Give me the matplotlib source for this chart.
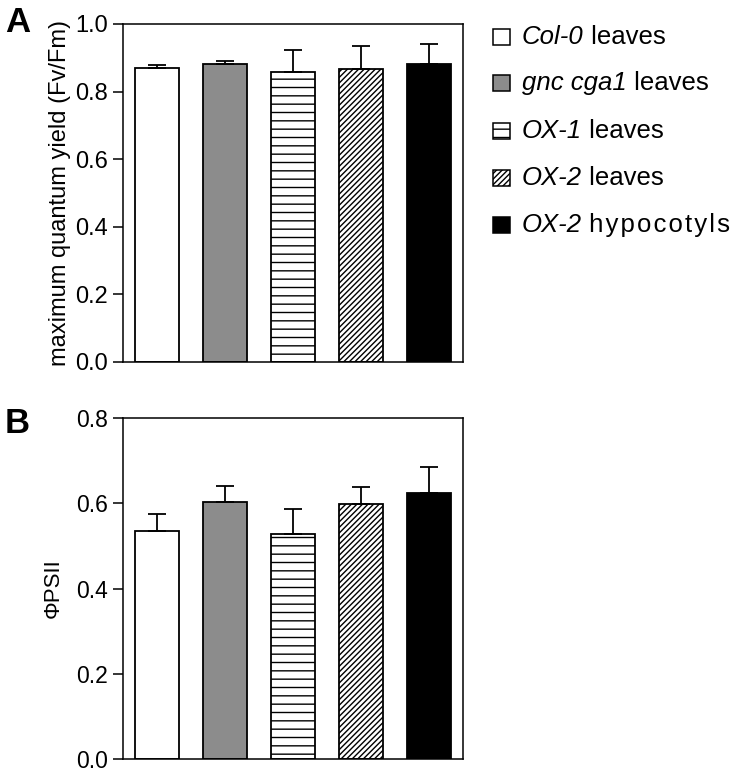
import numpy as np
import matplotlib
matplotlib.use('Agg')
import matplotlib.pyplot as plt
from matplotlib.patches import Rectangle

plt.rcParams['font.family'] = ['Liberation Sans', 'DejaVu Sans']
plt.rcParams['hatch.linewidth'] = 1.0

groups = ['Col-0', 'gnc cga1', 'OX-1', 'OX-2', 'OX-2']
suffix = [' leaves', ' leaves', ' leaves', ' leaves',
          ' ' + '\u200a'.join('hypocotyls')]
colors = ['white', '#8c8c8c', 'white', 'white', 'black']
hatches = ['', '', '--', '//////', '']

fvfm_mean = [0.869, 0.883, 0.859, 0.868, 0.883]
fvfm_err = [0.010, 0.008, 0.065, 0.067, 0.059]
psii_mean = [0.535, 0.603, 0.528, 0.598, 0.624]
psii_err = [0.039, 0.038, 0.059, 0.040, 0.060]

W, H = 747, 774
fig = plt.figure(figsize=(W / 100, H / 100), dpi=100)
ax1 = fig.add_axes([123 / W, 1 - 362 / H, 340 / W, 338 / H])
ax2 = fig.add_axes([123 / W, 1 - 759.3 / H, 340 / W, 341.6 / H])

x = np.arange(len(groups))


def draw(ax, mean, err, ymax, ticks, tsize):
    ax.bar(x, mean, width=0.66, color=colors, hatch=hatches, edgecolor='black',
           linewidth=1.3, yerr=[np.zeros(len(err)), err],
           error_kw=dict(ecolor='black', elinewidth=1.3, capsize=6.5, capthick=1.3),
           zorder=2)
    ax.set_xlim(-0.5, 4.5)
    ax.set_ylim(0, ymax)
    ax.set_xticks([])
    ax.set_yticks(ticks)
    ax.set_yticklabels(['%.1f' % t for t in ticks])
    ax.tick_params(axis='y', direction='out', length=7.5, width=1.1, pad=3.5, labelsize=tsize)
    for s in ax.spines.values():
        s.set_linewidth(1.1)


draw(ax1, fvfm_mean, fvfm_err, 1.0, [0, 0.2, 0.4, 0.6, 0.8, 1.0], 17)
draw(ax2, psii_mean, psii_err, 0.8, [0, 0.2, 0.4, 0.6, 0.8], 16.5)

ax1.set_ylabel('maximum quantum yield (Fv/Fm)', fontsize=17, labelpad=3)
ax2.set_ylabel('\u03a6PSII', fontsize=16, labelpad=9)

fig.text(5 / W, 1 - 32 / H, 'A', fontsize=25, weight='bold')
fig.text(5 / W, 1 - 433 / H, 'B', fontsize=25, weight='bold')

# legend
rows_y = [37, 83, 131, 178, 225]
for i, y in enumerate(rows_y):
    fig.add_artist(Rectangle((493 / W, 1 - (y + 8) / H), 17 / W, 16 / H,
                             transform=fig.transFigure, facecolor=colors[i],
                             hatch=hatches[i], edgecolor='black', linewidth=1.1))
    t = fig.text(522 / W, 1 - y / H, groups[i], fontsize=18.5, style='italic', va='center')
    ax1.annotate(suffix[i], xy=(1, 0), xycoords=t, va='bottom', ha='left', fontsize=18.5,
                 annotation_clip=False)

fig.savefig('out.png', dpi=100)
